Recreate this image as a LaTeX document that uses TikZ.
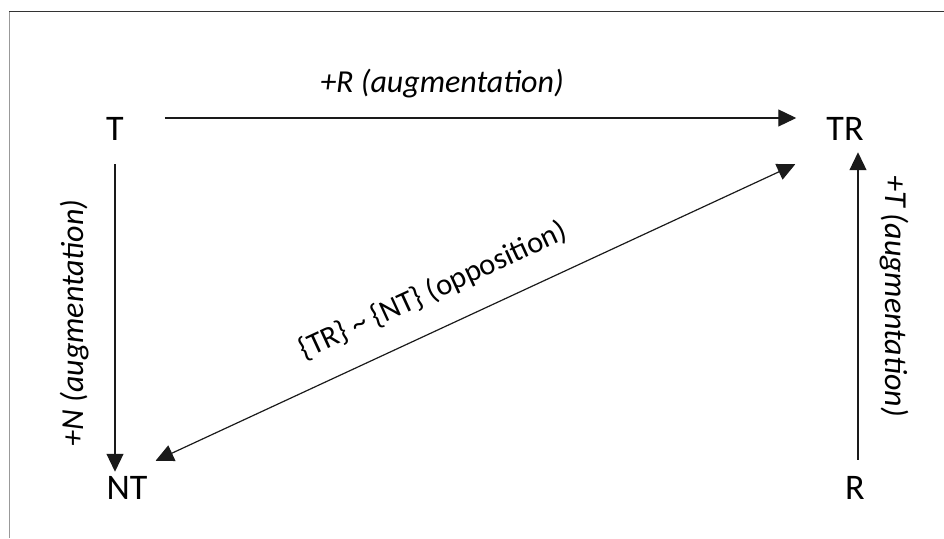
\documentclass[tikz,border=0pt]{standalone}
\usepackage{fontspec}
\setmainfont{Carlito}
\usetikzlibrary{arrows.meta}
\definecolor{lineColor}{HTML}{1A1A1A}
\definecolor{frameColor}{HTML}{333333}
\definecolor{frameSide}{HTML}{999999}

\begin{document}
\begin{tikzpicture}[x=1pt, y=1pt,
    letter/.style={inner sep=0pt, font=\fontsize{36}{40}\selectfont},
    tag/.style={inner sep=0pt, font=\fontsize{32}{36}\selectfont\itshape},
    arr/.style={-{Triangle[length=18pt, width=17pt]}, line width=1.2pt, color=lineColor},
    arrBoth/.style={{Triangle[length=18pt, width=17pt]}-{Triangle[length=18pt, width=17pt]}, line width=1.2pt, color=lineColor}]
            % --- PARAMETERS ---
            \pgfmathsetmacro{\topY}{409.5}     % Height of the upper row
            \pgfmathsetmacro{\lowY}{50}        % Height of the lower row
            \pgfmathsetmacro{\leftX}{115}      % Left column
            \pgfmathsetmacro{\rightX}{845}     % Right column

            % Canvas and frame
            \useasboundingbox (0,0) rectangle (944,538);
            \draw[frameColor, line width=1pt] (9,526) -- (944,526);
            \draw[frameSide, line width=1pt] (9,526) -- (9,0);

            % Nodes
            \node[letter] (T)  at (\leftX, \topY) {T};
            \node[letter] (TR) at (\rightX, \topY) {TR};
            \node[letter] (NT) at (\leftX + 12, \lowY) {NT};
            \node[letter] (R)  at (\rightX + 10, \lowY) {R};

            % Augmentations
            \draw[arr, shorten <=41pt, shorten >=30pt] ([yshift=10.5pt]T.east) -- ([yshift=10.5pt]TR.west);
            \draw[arr, shorten <=24pt, shorten >=4.5pt] (T.south) -- (T.south |- NT.north);
            \draw[arr, shorten <=16.5pt, shorten >=12pt] ([xshift=3pt]R.north) -- ([xshift=3pt]R.north |- TR.south);

            % Opposition
            \draw[arrBoth] ([shift={(8,15.5)}]NT.north east) -- ([shift={(-31,-24)}]TR.south west);

            % Labels
            \node[tag] (tagR) at (442, 454) {+R (augmentation)};
            \node[tag, rotate=90] (tagN) at (75, 215) {+N (augmentation)};
            \node[tag, rotate=-90] (tagT) at (894, 242) {+T (augmentation)};
            \node[tag, font=\fontsize{30.5}{34}\selectfont, rotate=24.8] (tagO) at (433, 247) {\{TR\} \textasciitilde{} \{NT\} (opposition)};
        \end{tikzpicture}
\end{document}
